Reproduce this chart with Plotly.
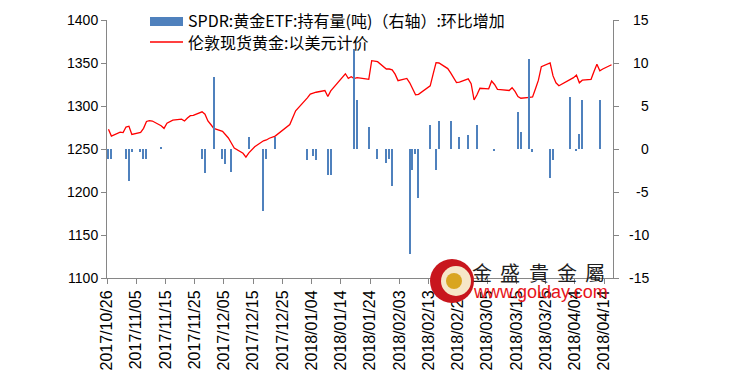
import plotly.graph_objects as go

# ---------------- data ----------------
gold_dates = [
    "2017-10-26", "2017-10-27", "2017-10-30", "2017-10-31", "2017-11-01", "2017-11-02", "2017-11-03",
    "2017-11-06", "2017-11-07", "2017-11-08", "2017-11-09", "2017-11-10",
    "2017-11-13", "2017-11-14", "2017-11-15", "2017-11-16", "2017-11-17",
    "2017-11-20", "2017-11-21", "2017-11-22", "2017-11-23", "2017-11-24",
    "2017-11-27", "2017-11-28", "2017-11-29", "2017-11-30", "2017-12-01",
    "2017-12-04", "2017-12-05", "2017-12-06", "2017-12-07", "2017-12-08",
    "2017-12-11", "2017-12-12", "2017-12-13", "2017-12-14", "2017-12-15",
    "2017-12-18", "2017-12-19", "2017-12-20", "2017-12-21", "2017-12-22",
    "2017-12-27", "2017-12-28", "2017-12-29",
    "2018-01-02", "2018-01-03", "2018-01-04", "2018-01-05",
    "2018-01-08", "2018-01-09", "2018-01-10", "2018-01-11", "2018-01-12",
    "2018-01-15", "2018-01-16", "2018-01-17", "2018-01-18", "2018-01-19",
    "2018-01-22", "2018-01-23", "2018-01-24", "2018-01-25", "2018-01-26",
    "2018-01-29", "2018-01-30", "2018-01-31", "2018-02-01", "2018-02-02",
    "2018-02-05", "2018-02-06", "2018-02-07", "2018-02-08", "2018-02-09",
    "2018-02-12", "2018-02-13", "2018-02-14", "2018-02-15", "2018-02-16",
    "2018-02-19", "2018-02-20", "2018-02-21", "2018-02-22", "2018-02-23",
    "2018-02-26", "2018-02-27", "2018-02-28", "2018-03-01", "2018-03-02",
    "2018-03-05", "2018-03-06", "2018-03-07", "2018-03-08", "2018-03-09",
    "2018-03-12", "2018-03-13", "2018-03-14", "2018-03-15", "2018-03-16",
    "2018-03-19", "2018-03-20", "2018-03-21", "2018-03-22", "2018-03-23",
    "2018-03-26", "2018-03-27", "2018-03-28", "2018-03-29",
    "2018-04-03", "2018-04-04", "2018-04-05", "2018-04-06",
    "2018-04-09", "2018-04-10", "2018-04-11", "2018-04-12", "2018-04-13",
    "2018-04-16",
]
gold_prices = [
    1273, 1265, 1269.5, 1269, 1275.5, 1276.5, 1267,
    1269.3, 1274, 1282, 1283, 1282.5,
    1277, 1274, 1280, 1281.5, 1283.5,
    1284.7, 1282.6, 1286, 1288.7, 1289.2,
    1293.2, 1290.5, 1282.6, 1278.5, 1274,
    1270.5, 1266.5, 1262.8, 1257, 1251,
    1245, 1240.5, 1245.5, 1249.5, 1252.7,
    1259.5, 1260.5, 1262.5, 1263.8, 1265,
    1278.5, 1287.5, 1294.4,
    1309.5, 1313.8, 1315, 1316,
    1318, 1311, 1317.5, 1321.5, 1325.5,
    1337.5, 1332.2, 1334.1, 1331.8, 1333,
    1331.5, 1331, 1352.7, 1352, 1351.5,
    1343, 1343, 1342, 1337, 1329.5,
    1332, 1327, 1320, 1313, 1313.5,
    1321, 1323.5, 1337, 1350.4, 1350,
    1343.5, 1338.5, 1332, 1327.3, 1327.8,
    1331.5, 1326, 1307, 1313, 1320.6,
    1320, 1329, 1325, 1319.4, 1319,
    1318, 1321.3, 1317, 1311, 1309,
    1310.1, 1310.5, 1320, 1330, 1345.8,
    1350, 1335, 1327, 1323.6,
    1333, 1336, 1327, 1330,
    1331, 1340, 1348.5, 1341, 1343,
    1348,
]

spdr_dates = [
    "2017-10-26", "2017-10-27", "2017-11-01", "2017-11-02", "2017-11-03", "2017-11-06",
    "2017-11-07", "2017-11-08", "2017-11-13", "2017-11-27", "2017-11-28", "2017-12-01",
    "2017-12-04", "2017-12-05", "2017-12-07", "2017-12-13", "2017-12-18", "2017-12-19",
    "2017-12-22", "2018-01-02", "2018-01-04", "2018-01-05", "2018-01-09", "2018-01-10",
    "2018-01-18", "2018-01-19", "2018-01-23", "2018-01-26", "2018-01-29", "2018-01-30",
    "2018-01-31", "2018-02-06", "2018-02-07", "2018-02-08", "2018-02-09", "2018-02-13",
    "2018-02-15", "2018-02-16", "2018-02-20", "2018-02-23", "2018-02-26", "2018-03-01",
    "2018-03-07", "2018-03-15", "2018-03-16", "2018-03-19", "2018-03-20", "2018-03-26",
    "2018-03-27", "2018-04-02", "2018-04-04", "2018-04-05", "2018-04-06", "2018-04-12",
]
spdr_change = [
    -1.2, -1.2, -1.2, -3.7, -0.3, -0.3,
    -1.2, -1.2, 0.15, -1.2, -2.8, 8.4,
    -1.2, -1.7, -2.7, 1.4, -7.2, -1.2,
    1.4, -1.3, -0.8, -1.3, -3.0, -3.0,
    11.6, 5.7, 2.6, -1.2, -1.6, -1.2,
    -4.3, -12.2, -2.4, -0.6, -5.7, 2.8,
    -2.4, 3.2, 3.2, 1.35, 1.6, 2.8,
    -0.2, 4.3, 2.0, 10.5, -0.3, -3.4,
    -1.3, 6.0, -0.2, 1.8, 5.7, 5.7,
]

left_ticks = [1100, 1150, 1200, 1250, 1300, 1350, 1400]
right_ticks = [-15, -10, -5, 0, 5, 10, 15]

legend_bar = "SPDR:黄金ETF:持有量(吨)（右轴）:环比增加"
legend_line = "伦敦现货黄金:以美元计价"
wm_chars = ["金", "盛", "貴", "金", "屬"]
wm_url = "www.golday.com"

# ---------------- figure ----------------
# the page body adds an 8px offset, so the figure is shrunk by it
OFF = 8
VW, VH = 730, 388
PL, PR, PT, PB = 107, 613, 20, 278          # plot area in window pixels
W, H = VW - OFF, VH - OFF
ML, MT = PL - OFF, PT - OFF
MR, MB = W - (PR - OFF), H - (PB - OFF)
PW, PH = PR - PL, PB - PT


def px(x):
    return (x - PL) / PW


def py(y):
    return (PB - y) / PH


DAY = 86400000
AXIS_COL = "#868686"
FONT = "Liberation Sans, Arial, sans-serif"
CJK = "Noto Sans CJK SC, sans-serif"

fig = go.Figure()
fig.add_trace(go.Scatter(
    x=gold_dates, y=gold_prices, mode="lines",
    line=dict(color="#FF0000", width=1.3),
    xperiod=DAY, xperiodalignment="middle",
    yaxis="y", showlegend=False,
))
fig.add_trace(go.Bar(
    x=spdr_dates, y=spdr_change,
    marker=dict(color="#4F81BD", line=dict(width=0)),
    width=DAY * 0.45,
    xperiod=DAY, xperiodalignment="middle",
    yaxis="y2", showlegend=False,
))

fig.update_layout(
    width=W, height=H,
    margin=dict(l=ML, r=MR, t=MT, b=MB, autoexpand=False),
    paper_bgcolor="white", plot_bgcolor="white",
    font=dict(family=FONT, color="#000000"),
    xaxis=dict(
        type="date", range=["2017-10-26", "2018-04-17"], automargin=False,
        tick0="2017-10-26", dtick=DAY * 10, tickformat="%Y/%m/%d",
        tickangle=-90, tickfont=dict(size=16, family=FONT),
        showline=True, linecolor=AXIS_COL, linewidth=1,
        ticks="outside", ticklen=5, tickcolor=AXIS_COL,
        showgrid=False, zeroline=False,
    ),
    yaxis=dict(
        range=[1100, 1400], tickvals=left_ticks, automargin=False,
        tickfont=dict(size=14, family=FONT),
        showline=True, linecolor=AXIS_COL, linewidth=1,
        ticks="outside", ticklen=5, tickcolor=AXIS_COL,
        showgrid=False, zeroline=False,
    ),
    yaxis2=dict(
        range=[-15, 15], tickvals=right_ticks, overlaying="y", side="right",
        showticklabels=False, automargin=False,
        showline=True, linecolor=AXIS_COL, linewidth=1,
        ticks="outside", ticklen=5, tickcolor=AXIS_COL,
        showgrid=False, zeroline=False,
    ),
    bargap=0,
)

annotations = []
# right axis labels (right-aligned as in reference)
for v in right_ticks:
    annotations.append(dict(
        xref="paper", yref="y2", x=px(651), y=v, text=str(v),
        showarrow=False, xanchor="right", yanchor="middle",
        font=dict(size=14, family=FONT, color="#000000"),
    ))

# custom legend
shapes = [
    dict(type="rect", xref="paper", yref="paper",
         x0=px(150), x1=px(183), y0=py(26), y1=py(17),
         fillcolor="#4F81BD", line=dict(width=0)),
    dict(type="line", xref="paper", yref="paper",
         x0=px(150), x1=px(183), y0=py(42), y1=py(42),
         line=dict(color="#FF0000", width=1.3)),
]
annotations.append(dict(
    xref="paper", yref="paper", x=px(186), y=py(20), text=legend_bar,
    showarrow=False, xanchor="left", yanchor="middle",
    font=dict(size=16, family=CJK, color="#000000"),
))
annotations.append(dict(
    xref="paper", yref="paper", x=px(186), y=py(42), text=legend_line,
    showarrow=False, xanchor="left", yanchor="middle",
    font=dict(size=16, family=CJK, color="#000000"),
))

# watermark logo
cx, cy = 452, 281
shapes += [
    dict(type="circle", xref="paper", yref="paper", layer="above",
         x0=px(cx - 22), x1=px(cx + 22), y0=py(cy + 22), y1=py(cy - 22),
         fillcolor="#C8161D", line=dict(width=0)),
    dict(type="circle", xref="paper", yref="paper", layer="above",
         x0=px(cx - 11), x1=px(cx + 19), y0=py(cy + 15), y1=py(cy - 15),
         fillcolor="#F6E7C8", line=dict(width=0)),
    dict(type="circle", xref="paper", yref="paper", layer="above",
         x0=px(cx - 6), x1=px(cx + 10), y0=py(cy + 8), y1=py(cy - 8),
         fillcolor="#D9A520", line=dict(width=0)),
]
for i, ch in enumerate(wm_chars):
    annotations.append(dict(
        xref="paper", yref="paper", x=px(482 + i * 28.3), y=py(272), text=ch,
        showarrow=False, xanchor="center", yanchor="middle",
        font=dict(size=20, family="Noto Sans CJK TC, sans-serif", color="#1E1E1E"),
    ))
annotations.append(dict(
    xref="paper", yref="paper", x=px(540), y=py(292), text=wm_url,
    showarrow=False, xanchor="center", yanchor="middle",
    font=dict(size=18, family=FONT, color="#E8141B"),
))

fig.update_layout(shapes=shapes, annotations=annotations)
fig.write_html("out.html")
